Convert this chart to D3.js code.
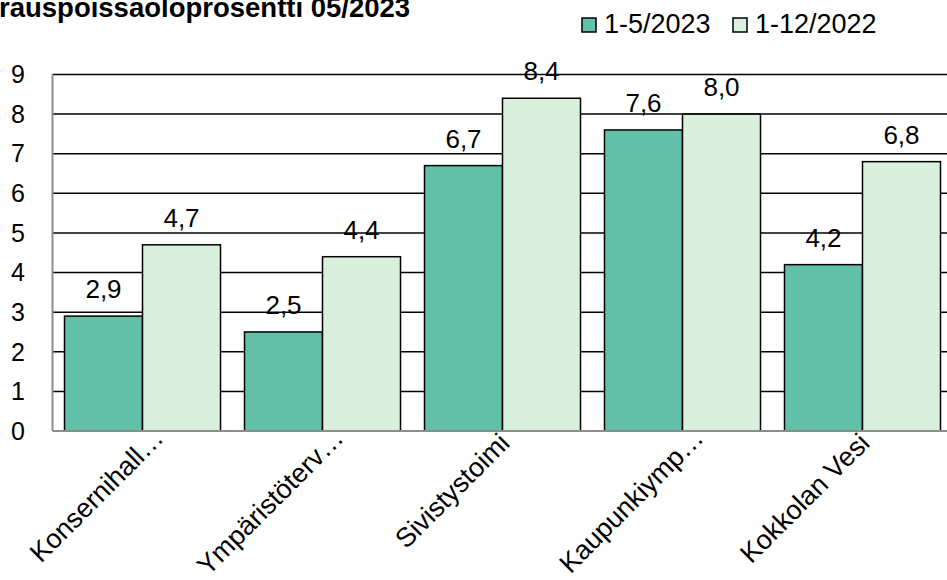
<!DOCTYPE html>
<html>
<head>
<meta charset="utf-8">
<title>Sairauspoissaoloprosentti 05/2023</title>
<script src="https://d3js.org/d3.v7.min.js"></script>
<style>
  body { margin: 0; background: #fff; }
  svg { display: block; font-family: "Liberation Sans", Arial, sans-serif; }
</style>
</head>
<body>
<svg width="947" height="580"></svg>
<script>
const categories = ["Konsernihall…", "Ympäristöterv…", "Sivistystoimi", "Kaupunkiymp…", "Kokkolan Vesi"];
const seriesNames = ["1-5/2023", "1-12/2022"];
const values2023 = [2.9, 2.5, 6.7, 7.6, 4.2];
const values2022 = [4.7, 4.4, 8.4, 8.0, 6.8];
const yTicks = [0, 1, 2, 3, 4, 5, 6, 7, 8, 9];
const colors = ["#62c0a9", "#d9f0dc"];

const svg = d3.select("svg");

const plotLeft = 52.5, plotRight = 952.5, plotTop = 74.5, plotBottom = 431;

const x0 = d3.scaleBand()
    .domain(categories)
    .range([plotLeft, plotRight])
    .paddingInner(0.1333)
    .paddingOuter(0.0667);

const x1 = d3.scaleBand()
    .domain(seriesNames)
    .range([0, x0.bandwidth()]);

const y = d3.scaleLinear().domain([0, 9]).range([plotBottom, plotTop]);

const rows = categories.map((c, i) => ({ cat: c, vals: [values2023[i], values2022[i]] }));

// gridlines
svg.append("g")
    .selectAll("line")
    .data(yTicks.filter(d => d > 0))
    .join("line")
    .attr("x1", plotLeft).attr("x2", plotRight)
    .attr("y1", d => y(d)).attr("y2", d => y(d))
    .attr("stroke", "#000")
    .attr("stroke-width", 1.5);

// bars
const groups = svg.append("g")
    .selectAll("g")
    .data(rows)
    .join("g")
    .attr("transform", d => `translate(${x0(d.cat)},0)`);

groups.selectAll("rect")
    .data(d => d.vals.map((v, j) => ({ key: seriesNames[j], v, j })))
    .join("rect")
    .attr("x", d => x1(d.key))
    .attr("y", d => y(d.v))
    .attr("width", x1.bandwidth())
    .attr("height", d => y(0) - y(d.v))
    .attr("fill", d => colors[d.j])
    .attr("stroke", "#000")
    .attr("stroke-width", 1.5);

groups.selectAll("text")
    .data(d => d.vals.map((v, j) => ({ key: seriesNames[j], v, j })))
    .join("text")
    .attr("x", d => x1(d.key) + x1.bandwidth() / 2)
    .attr("y", d => y(d.v) - 18)
    .attr("text-anchor", "middle")
    .attr("font-size", 26)
    .attr("fill", "#000")
    .text(d => d3.format(".1f")(d.v).replace(".", ","));

// axes lines
svg.append("line")
    .attr("x1", plotLeft).attr("x2", plotLeft)
    .attr("y1", plotTop).attr("y2", plotBottom)
    .attr("stroke", "#8c8c8c").attr("stroke-width", 2);
svg.append("line")
    .attr("x1", plotLeft).attr("x2", plotRight)
    .attr("y1", plotBottom).attr("y2", plotBottom)
    .attr("stroke", "#8c8c8c").attr("stroke-width", 2);

// y tick labels
svg.append("g")
    .selectAll("text")
    .data(yTicks)
    .join("text")
    .attr("x", 25)
    .attr("y", d => y(d))
    .attr("dy", "0.35em")
    .attr("text-anchor", "end")
    .attr("font-size", 25)
    .text(d => d);

// category labels (truncated ones sit a bit further right, as in Excel)
svg.append("g")
    .selectAll("text")
    .data(categories)
    .join("text")
    .attr("transform", d => {
      const cx = x0(d) + x0.bandwidth() / 2;
      const cut = d.endsWith("…");
      return `translate(${cx + (cut ? 16 : 2)},${plotBottom + (cut ? 2 : 7)}) rotate(-45)`;
    })
    .attr("dy", "0.35em")
    .attr("text-anchor", "end")
    .attr("font-size", 27)
    .text(d => d);

// title
svg.append("text")
    .attr("x", -1)
    .attr("y", 17)
    .attr("font-size", 27.5)
    .attr("font-weight", "bold")
    .text("rauspoissaoloprosentti 05/2023");

// legend
const legend = svg.append("g");
const legendX = [582, 733];
seriesNames.forEach((s, i) => {
  legend.append("rect")
      .attr("x", legendX[i]).attr("y", 18)
      .attr("width", 14).attr("height", 14)
      .attr("fill", colors[i])
      .attr("stroke", "#000").attr("stroke-width", 1.5);
  legend.append("text")
      .attr("x", legendX[i] + 22).attr("y", 33)
      .attr("font-size", 27)
      .text(s);
});
</script>
</body>
</html>
